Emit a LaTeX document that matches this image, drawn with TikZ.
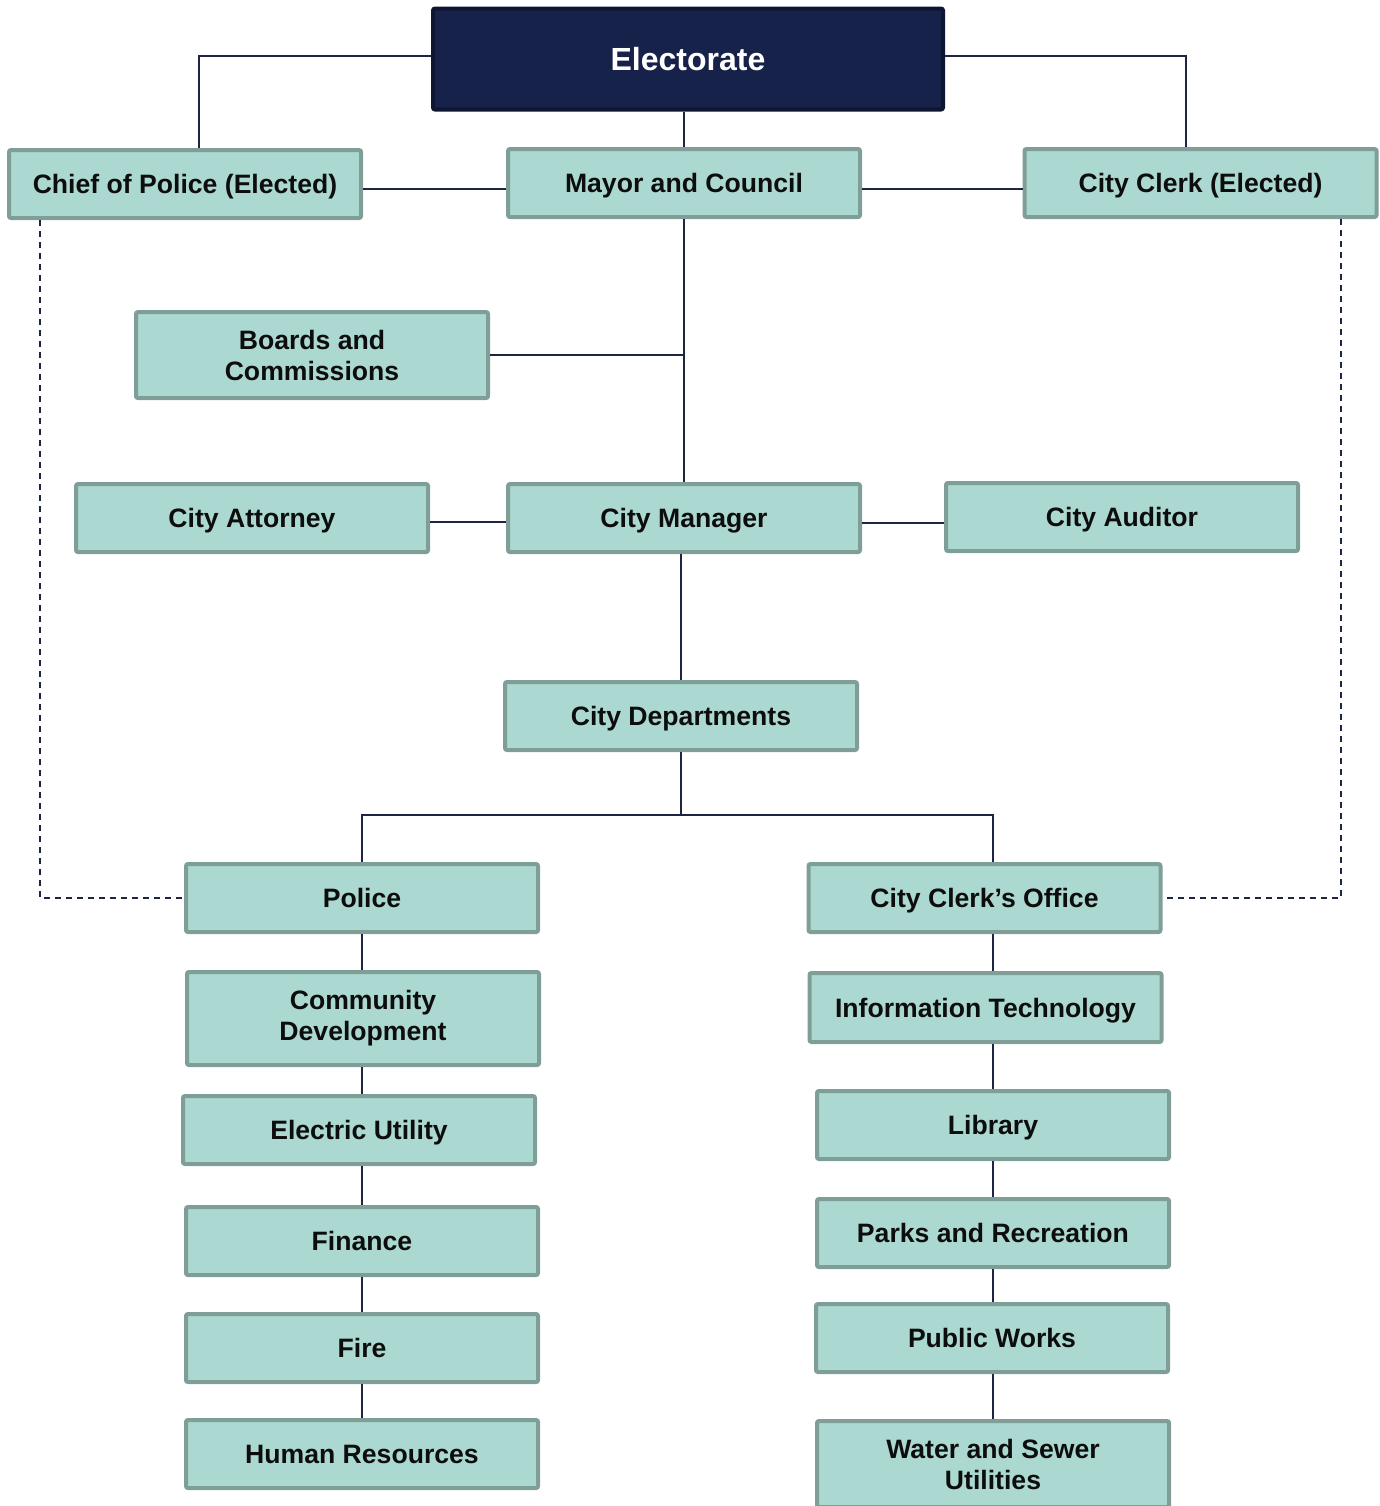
\documentclass[tikz,border=0pt]{standalone}
\usepackage{fontspec}
\setmainfont{Liberation Sans}
\definecolor{boxfill}{HTML}{ABD8D0}
\definecolor{boxline}{HTML}{7E9E97}
\definecolor{navy}{HTML}{17224A}
\definecolor{navyline}{HTML}{0E1631}
\definecolor{wire}{HTML}{1C2541}
\tikzset{
   office/.style={draw=boxline, line width=2pt, fill=boxfill, rounded corners=1pt,
      minimum width=176pt, inner sep=0pt, align=center, text=black!95,
      font=\fontsize{13.3}{15.5}\selectfont\bfseries},
   oneline/.style={text height=9.6pt, text depth=0pt},
   twoline/.style={},
   topoffice/.style={draw=navyline, line width=2pt, fill=navy, rounded corners=1pt,
      minimum width=255pt, minimum height=50.5pt, text=white,
      font=\fontsize{16}{19}\selectfont\bfseries},
   link/.style={draw=wire, line width=1pt},
   dottedlink/.style={draw=wire, line width=1pt, dash pattern=on 3pt off 2.5pt}
}
\begin{document}
\begin{tikzpicture}[x=0.5pt, y=-0.5pt]
   \useasboundingbox (0,0) rectangle (1380,1506);
   \def \Offices {
      chief/185/184/34/oneline/Chief of Police (Elected),
      mayor/684/183/34/oneline/Mayor and Council,
      clerk/1200.5/183/34/oneline/City Clerk (Elected),
      boards/312/355/43/twoline/{Boards and\\Commissions},
      attorney/252/518/34/oneline/City Attorney,
      manager/684/518/34/oneline/City Manager,
      auditor/1122/517/34/oneline/City Auditor,
      depts/681/716/34/oneline/City Departments,
      police/362/898/34/oneline/Police,
      commdev/363/1018.5/46.5/twoline/{Community\\Development},
      electric/359/1130/34/oneline/Electric Utility,
      finance/362/1241/34/oneline/Finance,
      fire/362/1348/34/oneline/Fire,
      hr/362/1454/34/oneline/Human Resources,
      cco/984.5/898/34/oneline/City Clerk’s Office,
      it/985.5/1007.5/34.5/oneline/Information Technology,
      library/993/1125/34/oneline/Library,
      parks/993/1233/34/oneline/Parks and Recreation,
      works/992/1338/34/oneline/Public Works,
      water/993/1464/43/twoline/{Water and Sewer\\Utilities}}
   \node[topoffice] (elect) at (688,59) {Electorate};
   \foreach \n / \x / \y / \h / \s / \t in \Offices {
      \node[office, \s, minimum height=\h pt] (\n) at (\x,\y) {\t};
   }
   \path[link] ([yshift=1.5pt]elect.west) -| ([xshift=7pt]chief.north);
   \path[link] ([yshift=1.5pt]elect.east) -| ([xshift=-7.25pt]clerk.north);
   \path[link] (mayor.north) -- (mayor.north |- elect.south);
   \path[link] ([yshift=-2.5pt]chief.east) -- ([yshift=-2.5pt]chief.east -| mayor.west);
   \path[link] ([yshift=-3pt]mayor.east) -- ([yshift=-3pt]mayor.east -| clerk.west);
   \path[link] (mayor.south) -- (manager.north);
   \path[link] (boards.east) -- (boards.east -| mayor.south);
   \path[link] ([yshift=-2pt]attorney.east) -- ([yshift=-2pt]attorney.east -| manager.west);
   \path[link] ([yshift=-2.5pt]manager.east) -- ([yshift=-2.5pt]manager.east -| auditor.west);
   \path[link] (manager.south -| depts.north) -- (depts.north);
   \coordinate (bus) at (681,815);
   \path[link] (depts.south) -- (bus);
   \path[link] (police.north) |- (bus) -| (cco.north -| library.north);
   \foreach \a / \b in {police/commdev, commdev/electric, electric/finance, finance/fire, fire/hr} {
      \path[link] (\a.south -| police) -- (\b.north -| police);
   }
   \foreach \a / \b in {cco/it, it/library, library/parks, parks/works, works/water} {
      \path[link] (\a.south -| library) -- (\b.north -| library);
   }
   \path[dottedlink] ([xshift=16.5pt]chief.south west) |- (police.west);
   \path[dottedlink] ([xshift=-19pt]clerk.south east) |- (cco.east);
\end{tikzpicture}
\end{document}
